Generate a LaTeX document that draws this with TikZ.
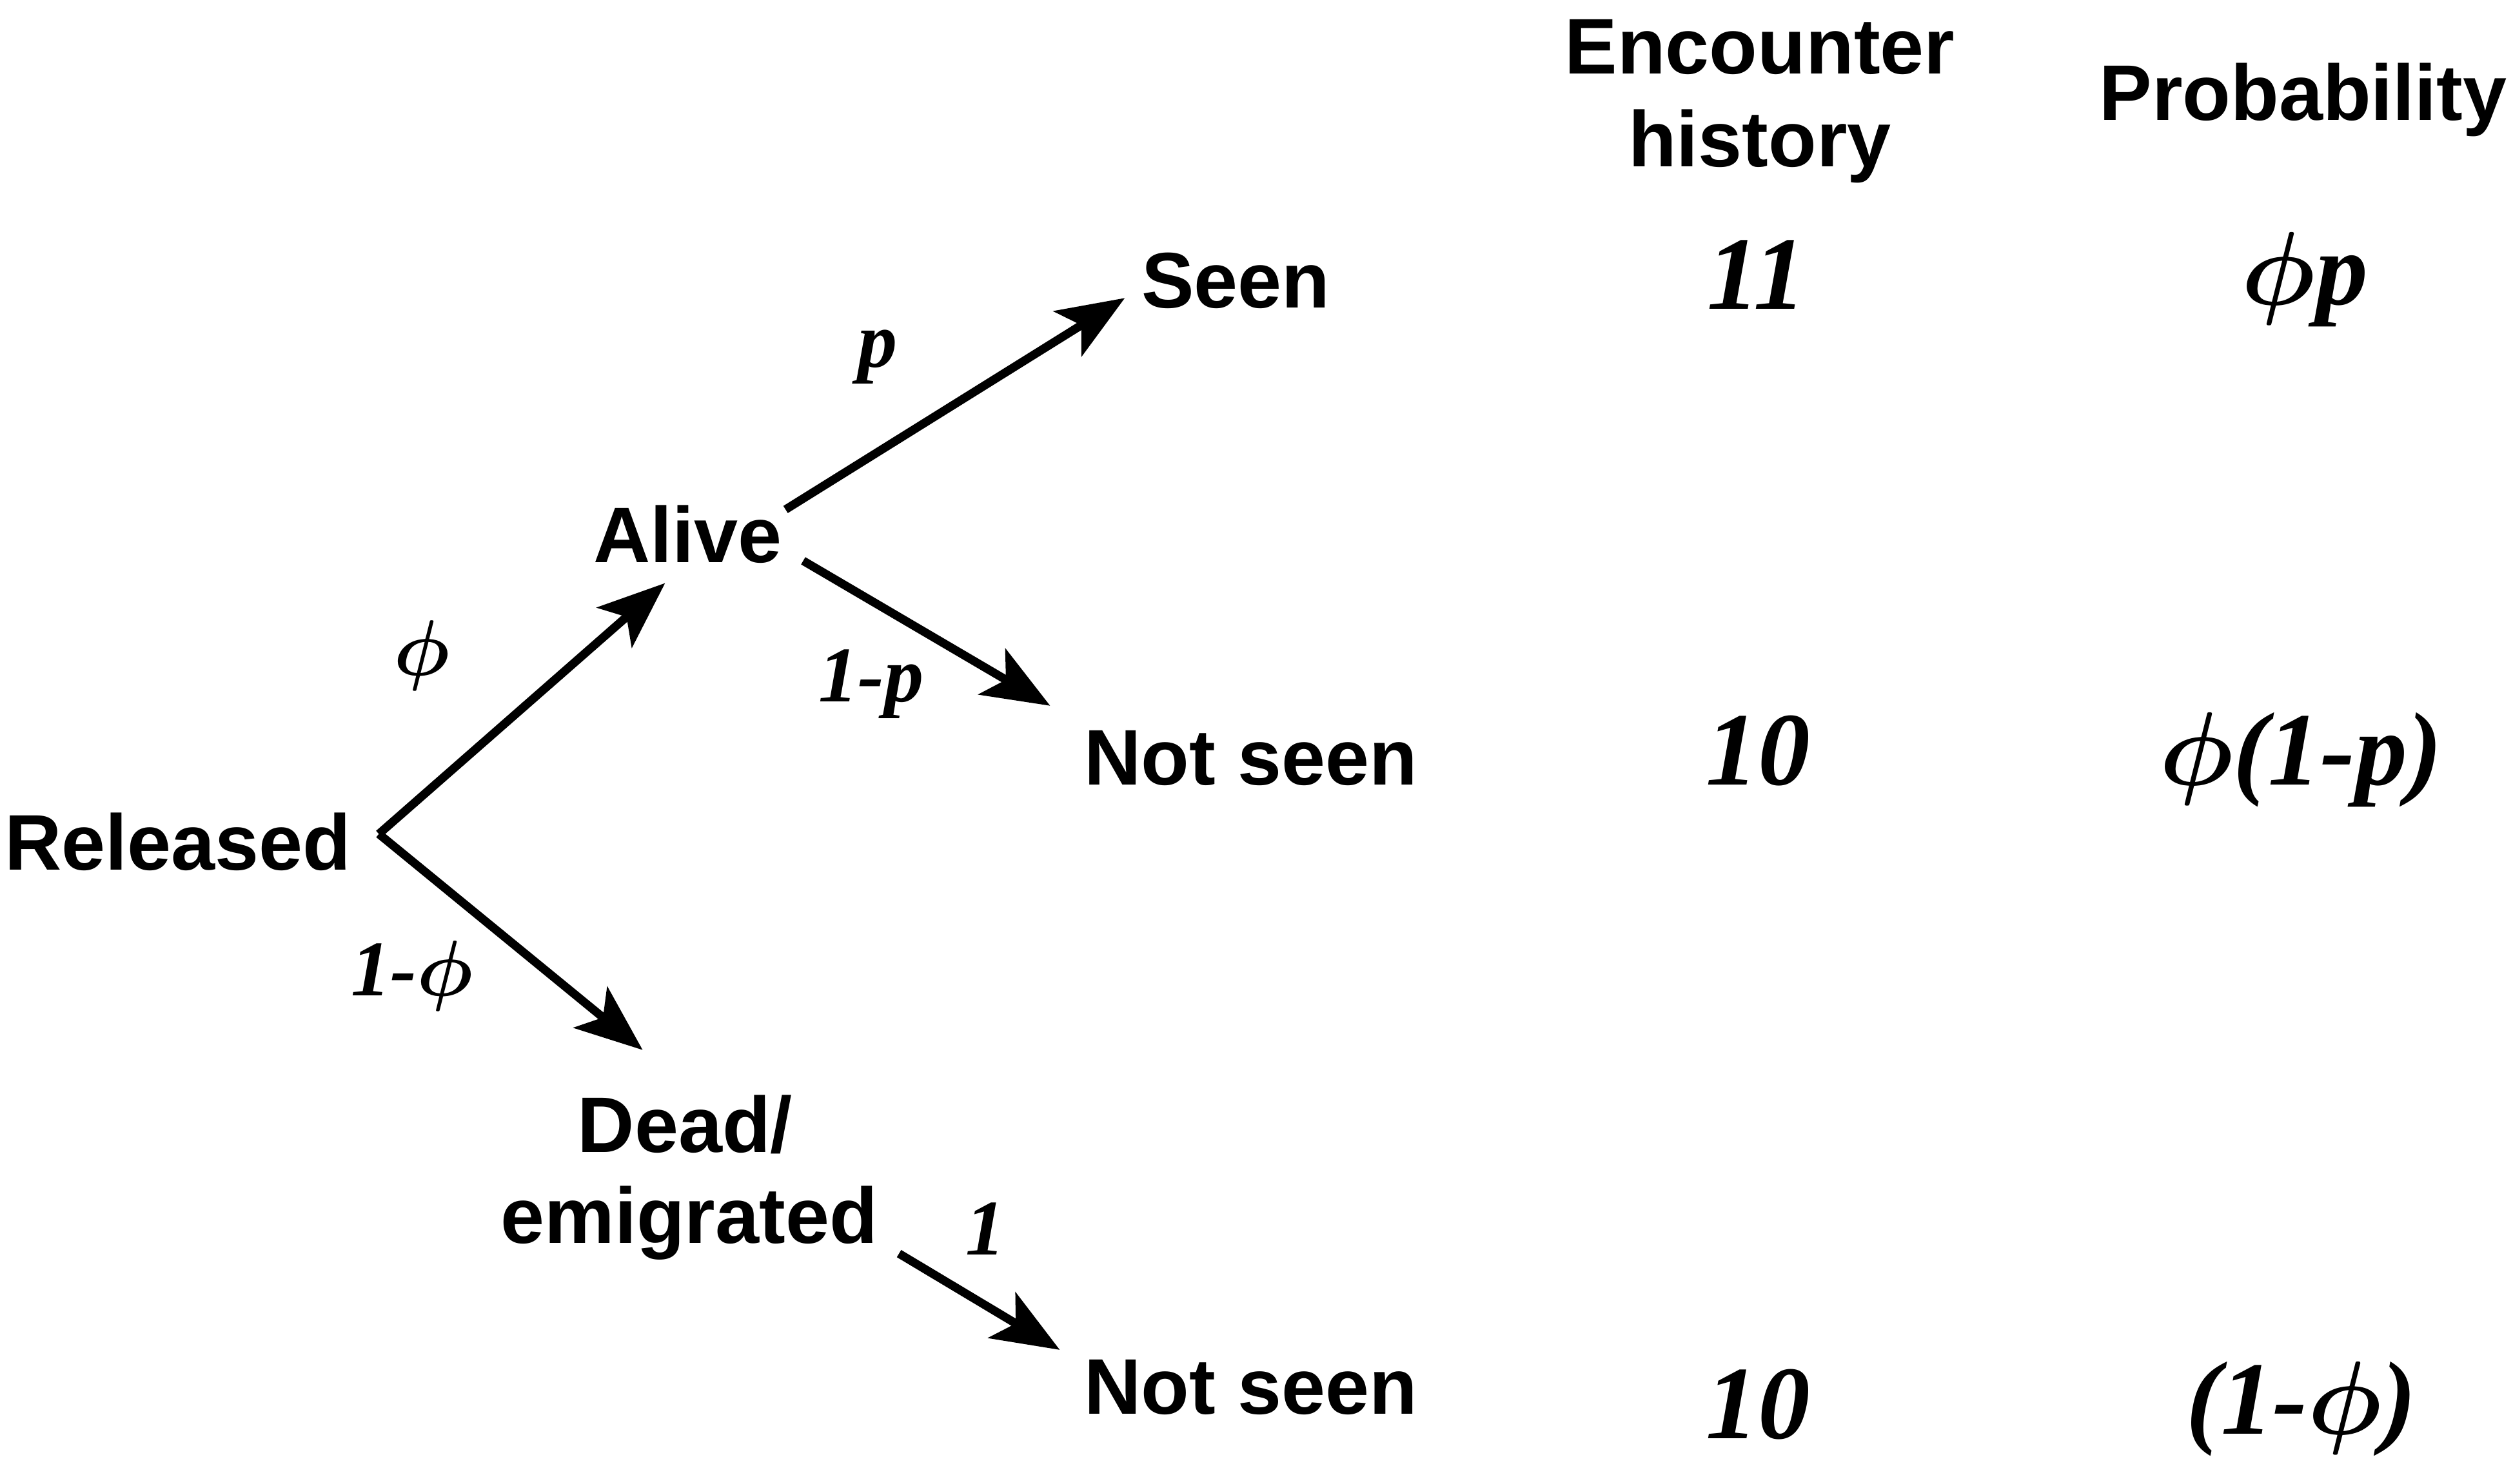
\RequirePackage{fix-cm}
\documentclass[tikz,border=0pt]{standalone}
\usepackage{fontspec}
\setmainfont{Liberation Serif}
\setsansfont{Liberation Sans}
\usepackage{tikz}
\usetikzlibrary{arrows.meta,positioning}
\definecolor{ink}{RGB}{0,0,0}
\tikzstyle{state} = [font=\fontsize{28}{33}\selectfont\sffamily\bfseries, inner sep=0pt, text=ink]
\tikzstyle{prob} = [font=\fontsize{28}{33}\selectfont\bfseries\itshape\boldmath, inner sep=0pt, text=ink]
\tikzstyle{result} = [font=\fontsize{37}{40}\selectfont\bfseries\itshape\boldmath, inner sep=0pt, text=ink]
\tikzstyle{arrow} = [line width=3pt, draw=ink, -{Stealth[length=0.84cm,width=0.66cm,inset=0.2cm]}]

\begin{document}
\begin{tikzpicture}
\useasboundingbox (0,0) rectangle (31.36,-18.52);

% Tree states
\node[state] (rel) at (2.22,-10.51) {Released};
\node[state] (alive) at (8.58,-6.67) {Alive};
\node[state] (dead) at (8.55,-14.04) {Dead/};
\node[state, anchor=base] (emig) at (8.6,-15.52) {emigrated};
\node[state] (seen) at (15.42,-3.5) {Seen};
\node[state] (ns1) at (15.61,-9.46) {Not seen};
\node[state] (ns2) at (15.61,-17.32) {Not seen};

% Column headers
\node[state, align=center, anchor=north] (enc) at (21.96,-0.24) {Encounter\\history};
\node[state, anchor=base] (prb) at (28.74,-1.5) {Probability};

% Encounter histories
\node[result, anchor=base] (h1) at (21.92,-3.86) {11};
\node[result, anchor=base] (h2) at (21.94,-9.8) {10};
\node[result, anchor=base] (h3) at (21.94,-17.96) {10};

% Probabilities
\node[result, anchor=base] (p1) at (28.76,-3.8) {\(\phi\)p};
\node[result, anchor=base] (p2) at (28.71,-9.8) {\(\phi\)(1-p)};
\node[result, anchor=base] (p3) at (28.72,-17.9) {(1-\(\phi\))};

% Branch labels
\node[prob] (lphi) at (5.26,-8.18) {\(\phi\)};
\node[prob] (lnphi) at (5.14,-12.18) {1-\(\phi\)};
\node[prob, anchor=base] (lp) at (10.95,-4.58) {p};
\node[prob, anchor=base] (lnp) at (10.87,-8.76) {1-p};
\node[prob, anchor=base] (lone) at (12.3,-15.66) {1};

% Arrows
\draw[arrow] ([shift={(0.34,0.1)}]rel.east) -- ([shift={(-0.28,-0.24)}]alive.south);
\draw[arrow] ([shift={(0.34,0.1)}]rel.east) -- ([shift={(-0.53,0.56)}]dead.north);
\draw[arrow] ([shift={(0.04,0.31)}]alive.east) -- ([shift={(-0.2,-0.22)}]seen.west);
\draw[arrow] ([shift={(0.26,-0.33)}]alive.east) -- ([shift={(-0.42,0.3)}]ns1.north west);
\draw[arrow] ([shift={(0.26,-0.38)}]emig.east) -- ([shift={(-0.3,0.12)}]ns2.north west);
\end{tikzpicture}
\end{document}
